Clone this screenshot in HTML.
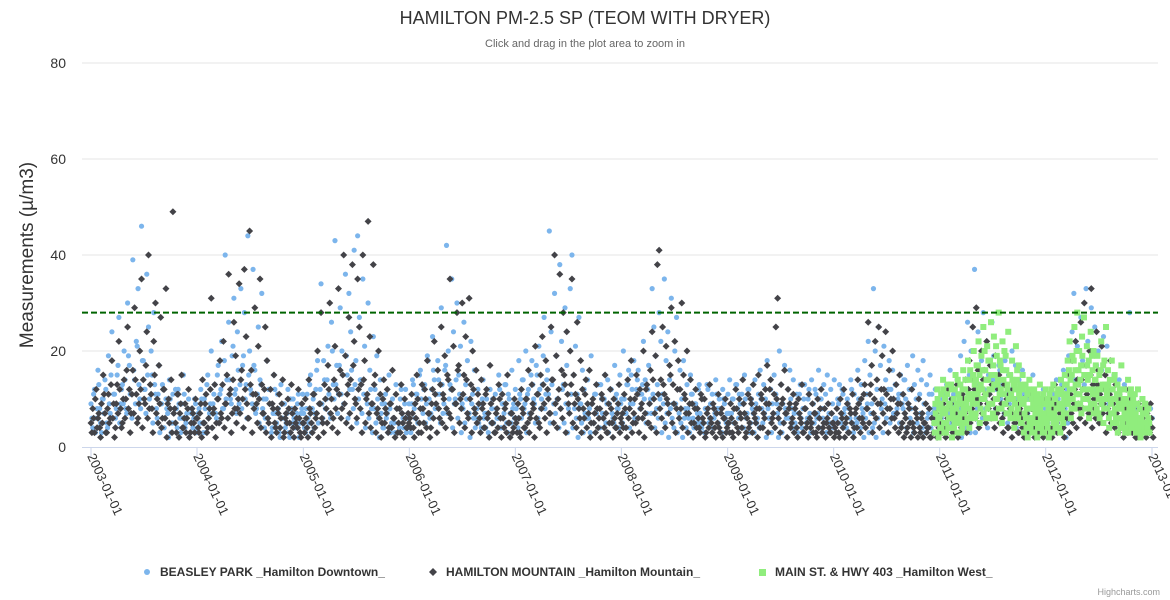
<!DOCTYPE html>
<html><head><meta charset="utf-8"><style>
body{margin:0;background:#fff;font-family:"Liberation Sans",sans-serif}
svg{display:block}
</style></head><body>
<svg id="chart" width="1170" height="600">
<rect x="0" y="0" width="1170" height="600" fill="#fff"/>
<text x="585" y="24" text-anchor="middle" font-size="18" fill="#333">HAMILTON PM-2.5 SP (TEOM WITH DRYER)</text>
<text x="585" y="47" text-anchor="middle" font-size="11" fill="#666">Click and drag in the plot area to zoom in</text>
<text transform="translate(33,255) rotate(-90)" text-anchor="middle" font-size="19" fill="#333">Measurements (µ/m3)</text>
<g id="grid"></g><g id="xaxis"></g><g id="plot"></g>
<g>
<g><circle cx="147" cy="572" r="3" fill="#7cb5ec"/><text x="160" y="576" font-size="12" font-weight="bold" fill="#333">BEASLEY PARK _Hamilton Downtown_</text></g>
<g><path d="M433 568 L437 572 L433 576 L429 572 Z" fill="#434348"/><text x="446" y="576" font-size="12" font-weight="bold" fill="#333">HAMILTON MOUNTAIN _Hamilton Mountain_</text></g>
<g><rect x="759" y="569" width="7" height="7" fill="#90ed7d"/><text x="775" y="576" font-size="12" font-weight="bold" fill="#333">MAIN ST. &amp; HWY 403 _Hamilton West_</text></g>
</g>
<text x="1160" y="595" text-anchor="end" font-size="9" fill="#999">Highcharts.com</text>
</svg>
<script>
const yTicks=[0,20,40,60,80];
const xTickLabels=["2003-01-01","2004-01-01","2005-01-01","2006-01-01","2007-01-01","2008-01-01","2009-01-01","2010-01-01","2011-01-01","2012-01-01","2013-01-01"];
const thresholdValue=28;
const mainStart="2003-01-01", mainStepDays=6;
const midStart="2003-01-04";
const greenStart="2010-12-14", greenStepDays=3.3;
const mountainValues=[5,8,3,12,6,4,9,15,7,3,11,6,18,9,4,13,22,8,5,14,10,25,12,7,16,29,11,6,20,35,14,9,24,40,13,8,22,30,10,17,27,6,12,33,9,5,14,49,8,3,11,7,15,4,9,6,12,3,8,5,10,
6,3,9,14,5,11,4,8,31,7,13,5,10,18,6,22,9,15,36,12,7,26,19,8,34,14,10,37,23,6,45,16,11,29,9,21,35,13,7,25,18,5,12,9,15,4,8,11,6,14,3,7,10,5,13,4,8,6,12,3,9,
5,10,4,14,7,3,11,6,20,9,28,5,13,8,17,30,10,6,21,12,33,16,8,40,19,11,27,14,38,22,9,35,25,13,40,18,10,47,23,9,38,15,7,20,11,5,14,8,12,4,9,16,6,11,3,8,13,5,10,4,7,
6,11,4,9,15,3,8,13,5,10,18,7,4,12,22,9,16,6,25,11,19,8,14,35,12,21,9,28,17,10,30,15,23,7,31,13,20,8,16,11,6,14,9,4,12,7,17,5,10,3,8,13,6,11,4,9,15,5,7,3,10,
5,9,3,12,7,4,10,16,6,13,8,21,11,5,15,23,9,18,12,7,25,14,40,19,10,36,16,28,13,24,9,20,35,15,11,26,8,18,12,6,14,9,16,5,10,7,13,4,8,11,6,15,3,9,12,5,10,4,7,13,6,
7,11,4,14,8,18,5,10,15,6,12,9,20,7,13,5,16,24,10,19,38,41,14,25,11,21,9,17,29,13,22,8,18,12,30,15,10,20,7,14,9,5,12,8,4,11,6,10,3,8,13,5,9,4,7,11,3,8,6,10,4,
5,9,3,8,12,4,10,6,14,7,3,11,5,9,13,6,8,15,4,10,7,12,17,9,14,6,11,25,31,8,13,10,16,7,12,9,5,11,8,4,10,6,13,3,8,5,11,4,9,7,3,10,6,12,4,8,5,9,3,7,5,
4,8,3,10,6,12,5,9,3,7,11,4,8,14,6,10,5,13,8,26,11,17,7,22,14,25,9,19,12,24,8,16,10,20,6,13,9,15,4,11,7,3,9,5,12,4,8,6,10,3,7,5,9,4,8,2,6,5,7,3,6,
5,9,4,8,12,6,10,4,7,13,5,9,11,6,14,8,18,10,25,12,29,16,9,20,14,11,22,8,17,13,10,19,7,15,11,6,13,9,4,11,7,12,5,9,3,8,6,10,4,7,11,5,8,3,9,6,4,7,5,10,4,
6,10,4,8,13,5,9,7,12,4,10,15,6,11,18,9,22,14,8,26,12,30,17,10,20,33,13,8,24,16,11,21,9,15,12,7,18,10,5,13,8,11,4,9,6,12,3,8,10,5,7,2,9,4,6,8,3,7,5,9,4];
const mountainValuesMid=[3,6,10,4,7,2,5,11,3,8,5,13,6,2,9,7,12,4,10,6,16,8,3,11,7,14,5,9,12,4,10,17,6,8,11,3,15,7,5,9,4,12,6,2,10,8,3,7,5,11,2,9,4,6,3,8,2,5,7,3,6,
4,7,2,5,9,3,6,12,4,8,2,10,5,7,13,4,9,6,11,3,14,8,5,10,7,16,4,12,9,6,13,3,8,11,5,10,4,7,12,3,6,9,2,8,5,3,7,4,9,2,6,5,8,3,7,2,5,4,6,2,5,
3,6,2,8,5,11,4,7,2,9,6,3,10,5,12,7,4,14,8,3,11,6,15,9,5,13,7,4,17,10,6,12,8,3,14,5,11,7,4,9,13,3,8,6,2,10,5,7,3,9,4,6,2,8,5,3,7,2,6,4,5,
4,7,2,6,10,5,3,8,12,4,7,2,9,6,11,3,8,13,5,10,4,15,7,6,12,3,9,16,5,8,11,4,14,6,10,3,12,7,5,9,3,8,4,11,6,2,9,5,3,7,4,10,2,6,8,3,5,2,7,4,6,
3,6,2,8,4,10,5,3,7,9,2,6,11,4,8,13,6,3,10,7,14,5,9,4,12,8,6,15,3,11,7,13,5,9,4,10,6,3,8,11,4,7,2,9,5,3,8,6,2,10,4,7,3,5,8,2,6,4,9,3,5,
4,8,2,6,10,3,7,5,11,3,8,6,2,12,5,9,4,14,7,3,11,8,6,13,4,10,7,15,5,9,3,12,6,8,4,11,7,3,9,5,2,8,4,6,3,10,5,2,7,4,6,3,8,2,5,4,7,2,6,3,5,
3,6,2,5,8,3,7,4,9,2,6,4,10,3,7,5,2,8,11,4,6,9,3,12,5,7,4,10,6,3,9,5,7,2,8,4,6,3,9,2,7,5,3,8,4,2,6,5,3,7,2,4,8,3,5,2,6,4,3,5,2,
3,5,2,7,4,2,6,3,8,5,2,7,4,9,3,6,11,4,8,5,13,3,10,6,9,4,12,7,5,11,3,8,6,10,4,7,3,9,5,2,6,4,8,2,5,3,7,2,4,6,2,5,3,4,2,6,3,5,2,4,3,
3,7,2,6,4,9,3,5,8,2,6,4,10,7,3,12,5,8,14,6,10,4,12,7,16,5,9,11,6,13,4,8,12,5,9,3,7,10,4,8,2,6,5,9,3,7,4,2,6,5,3,8,4,2,6,3,5,7,2,4,3,
4,7,2,5,9,3,6,4,8,2,6,11,3,7,5,12,4,9,6,14,8,5,11,7,15,4,10,6,13,5,9,7,12,3,8,11,5,9,4,7,3,10,6,2,8,5,4,7,3,6,2,5,8,3,6,4,2,5,3,6,2];
const beasleyValues=[9,4,12,6,16,8,3,10,14,5,19,7,24,11,6,15,27,9,13,20,8,30,17,11,39,14,22,33,10,46,18,12,36,25,8,15,28,11,6,17,9,13,4,10,7,14,3,11,5,8,12,6,9,15,4,7,10,3,8,6,9,
4,8,12,5,10,3,15,7,20,9,13,6,17,11,22,8,40,14,26,10,19,31,12,24,9,33,17,28,13,44,20,11,37,16,8,25,14,32,10,6,18,12,9,4,15,7,11,3,13,6,9,5,12,2,8,10,4,7,11,5,8,
7,3,11,5,15,8,4,12,18,9,34,6,14,10,21,7,26,13,43,17,11,29,20,9,36,15,32,24,12,41,18,44,27,14,35,21,10,30,16,8,23,12,19,6,14,9,4,11,7,15,3,10,5,13,8,4,12,6,9,3,7,
4,9,13,6,11,3,16,8,12,5,19,10,7,23,14,9,18,11,29,7,16,42,20,13,35,24,10,30,15,21,9,26,13,18,7,22,11,16,6,12,9,4,14,7,10,3,12,8,5,11,6,15,4,9,7,13,3,10,5,8,6,
8,4,11,6,14,9,3,12,7,18,10,5,15,21,8,13,27,11,16,45,24,14,32,19,10,38,22,13,29,17,8,33,40,15,21,11,27,9,16,12,6,14,8,19,5,11,7,13,4,10,6,15,9,3,12,7,5,10,8,4,9,
5,10,7,13,4,15,9,6,12,16,8,11,22,14,7,17,10,33,25,19,13,28,22,11,35,18,24,14,31,9,20,27,12,16,10,18,8,13,6,15,11,4,9,7,13,5,10,3,8,12,6,9,4,7,11,5,8,3,10,6,7,
7,3,10,5,13,8,11,4,9,15,6,12,3,10,7,14,5,11,16,8,13,10,18,6,12,9,15,11,7,20,13,9,17,6,12,16,8,14,5,11,7,13,4,10,8,6,12,3,9,5,11,7,4,10,6,8,3,9,5,7,4,
6,3,9,5,12,7,4,10,8,14,5,11,6,16,9,13,7,18,11,22,15,9,33,20,12,25,17,10,21,14,8,18,12,16,7,13,10,5,11,8,14,4,9,6,12,3,8,5,10,7,4,9,3,6,11,4,7,5,8,3,5,
6,10,4,13,8,16,5,11,9,14,7,19,12,22,9,26,15,20,11,37,17,24,13,18,28,10,21,15,12,26,19,8,14,17,10,13,7,11,5,9,12,6,10,4,8,13,5,9,7,3,10,6,8,4,11,5,9,3,7,6,8,
5,9,3,11,7,14,10,6,13,16,8,12,19,10,24,32,14,21,11,27,18,13,33,22,15,29,12,25,17,20,10,16,23,13,21,9,18,12,15,8,11,14,6,10,13,5,9,28,7,11,4,8,12,6,10,4,9,7,5,8,6];
const beasleyValuesMid=[6,11,3,8,13,5,10,7,12,4,9,15,6,11,8,17,5,12,9,14,7,19,11,6,16,9,21,13,8,18,12,7,15,10,20,5,13,8,11,3,9,12,6,8,2,10,5,7,12,4,9,3,6,11,5,8,2,7,4,10,3,
7,5,10,3,8,13,6,9,4,11,7,15,5,12,8,18,10,6,14,9,21,11,7,16,13,8,19,10,6,15,12,9,17,7,11,5,13,8,4,10,6,9,3,7,12,5,8,2,6,9,4,7,3,10,5,6,
5,9,2,7,11,4,8,6,13,3,10,7,16,5,12,9,18,8,14,11,6,20,10,13,7,17,11,15,9,19,6,12,16,8,13,5,10,14,7,11,4,9,6,12,3,8,5,10,2,7,4,9,6,3,8,5,
6,3,8,5,10,7,4,12,6,9,3,14,8,11,5,15,10,7,13,9,18,6,12,16,8,11,14,5,13,9,17,7,10,12,4,9,14,6,11,3,8,5,10,7,2,9,6,4,8,5,3,10,6,4,7,2,
5,10,3,8,6,12,4,9,13,5,11,7,16,9,12,6,18,10,14,8,20,11,7,15,13,9,17,6,12,10,19,8,14,11,5,13,9,7,10,4,8,12,5,9,3,7,11,4,8,6,2,9,5,3,7,6,
6,3,9,5,11,8,4,13,7,10,5,14,9,12,6,17,11,8,15,10,20,7,13,16,9,12,18,6,14,11,8,13,10,5,12,9,7,11,4,8,6,10,3,9,5,7,2,8,6,4,9,3,7,5,2,6,
4,8,3,11,6,9,5,12,7,4,10,8,13,5,9,11,6,14,8,10,7,12,9,5,11,14,7,10,8,13,6,9,11,4,10,7,12,5,8,3,9,6,4,10,5,7,2,8,6,3,7,4,9,2,5,3,
5,8,2,6,10,4,7,9,3,11,6,8,13,5,10,7,14,9,12,6,16,10,8,13,11,15,7,12,9,14,6,10,13,5,11,8,4,9,6,12,3,7,5,10,4,8,2,6,9,3,7,4,5,2,6,
4,8,3,9,6,12,5,10,7,13,8,11,15,9,14,10,17,12,8,19,13,10,16,11,14,18,9,13,7,15,11,8,12,6,10,9,5,8,11,4,7,10,3,9,6,5,8,2,7,4,9,5,3,6,
7,3,8,5,10,6,12,8,4,11,9,14,7,12,10,16,13,9,18,11,15,8,20,12,17,10,14,9,16,11,13,7,12,10,15,6,11,9,5,8,12,4,10,7,6,9,3,8,5,11,4,7,6,2,5];
const mainStValues=[5,9,3,12,6,8,4,11,7,14,5,10,3,8,13,6,9,4,12,7,
10,5,15,8,3,11,6,13,9,4,16,7,12,5,10,18,8,14,6,11,
9,20,13,7,17,11,22,15,8,19,12,25,10,16,6,21,14,9,18,26,
12,7,23,15,10,19,13,28,11,17,8,22,14,20,9,16,12,24,7,15,
11,18,6,13,9,21,14,8,17,10,12,5,15,9,7,13,4,11,8,14,
6,10,3,9,12,5,8,11,4,7,13,6,10,3,9,5,12,7,4,8,
11,6,9,3,13,7,10,5,8,12,4,9,14,6,11,7,15,9,13,18,
10,22,14,8,19,12,25,16,11,28,13,20,9,17,23,12,27,15,10,21,
14,18,8,24,12,16,20,9,14,11,19,7,15,12,22,10,17,8,13,25,
11,16,6,14,9,18,12,7,15,10,5,13,8,11,4,17,9,6,12,3,
10,7,14,5,9,12,6,8,4,11,7,3,9,5,8,2,6,10,4,7,
9,3,8,6,5];
const mainStValuesMid=[3,7,5,10,2,6,9,4,8,12,3,7,5,11,4,9,6,13,2,8,
4,12,6,9,14,5,10,7,3,12,8,5,14,9,6,11,4,16,7,10,
15,11,6,14,9,17,12,5,13,10,16,7,20,11,14,8,18,12,6,15,
9,17,13,6,21,10,14,8,18,12,5,16,11,9,19,7,13,10,15,6,
8,14,10,4,12,7,16,6,11,13,5,9,12,3,10,6,8,2,12,5,
4,8,6,11,3,7,10,2,9,5,8,4,7,11,3,6,9,5,10,2,
7,3,12,6,5,10,4,8,11,6,9,3,12,8,5,10,13,7,11,9,
16,12,6,15,10,18,8,13,20,9,16,11,14,7,19,10,15,8,12,17,
10,6,15,9,19,11,7,14,17,8,12,10,6,16,9,13,5,18,10,12,
8,13,4,10,7,12,5,14,8,6,11,3,9,12,6,8,5,10,7,4,
6,9,3,8,11,4,7,10,5,9,3,6,12,4,8,6,3,7,5,9,
5,7,4,8,3];

const NS="http://www.w3.org/2000/svg";
const X0=Date.parse("2003-01-01"), X1=Date.parse("2013-01-01");
const px0=91, px1=1152, plotL=82, plotR=1158, py0=447, py80=63;
const xScale=t=>px0+(t-X0)/(X1-X0)*(px1-px0);
const yScale=v=>py0-(v/80)*(py0-py80);
const DAY=86400000;
function mk(tag,attrs,parent){const e=document.createElementNS(NS,tag);for(const k in attrs)e.setAttribute(k,attrs[k]);parent.appendChild(e);return e;}
const grid=document.getElementById('grid'), xa=document.getElementById('xaxis'), plot=document.getElementById('plot');
yTicks.forEach(v=>{
  const y=yScale(v);
  if(v>0){const l=mk('line',{x1:plotL,x2:plotR,y1:y,y2:y,stroke:'#e6e6e6'},grid);
  
  }
  const t=mk('text',{x:66,y:y+5,'text-anchor':'end','font-size':14,fill:'#333'},grid);
  t.textContent=v;
  
  
});
const ax=mk('line',{x1:plotL,x2:plotR,y1:py0+0.5,y2:py0+0.5,stroke:'#ccd6eb'},xa);


xTickLabels.forEach(s=>{
  const x=xScale(Date.parse(s));
  const tk=mk('line',{x1:x,x2:x,y1:py0,y2:py0+10,stroke:'#ccd6eb'},xa);
  
  
  const t=mk('text',{x:0,y:0,'font-size':13,fill:'#333',transform:`translate(${x-4},${py0+9}) rotate(65)`},xa);
  t.textContent=s;
  
  
});
function drawSeries(vals,start,step,shape,color,name){
  const t0=Date.parse(start);
  const g=mk('g',{},plot);
  
  
  vals.forEach((v,i)=>{
    const x=xScale(t0+i*step*DAY), y=yScale(v);
    let e;
    if(shape==='circle') e=mk('circle',{cx:x,cy:y,r:2.6,fill:color},g);
    else if(shape==='diamond') e=mk('path',{d:`M${x} ${y-3.5}L${x+3.5} ${y}L${x} ${y+3.5}L${x-3.5} ${y}Z`,fill:color},g);
    else e=mk('rect',{x:x-3,y:y-3,width:6,height:6,fill:color},g);
    
    
  });
}
drawSeries(beasleyValues,mainStart,mainStepDays,'circle','#7cb5ec','beasley');
drawSeries(beasleyValuesMid,midStart,mainStepDays,'circle','#7cb5ec','beasley');
drawSeries(mountainValues,mainStart,mainStepDays,'diamond','#434348','mountain');
drawSeries(mountainValuesMid,midStart,mainStepDays,'diamond','#434348','mountain');
drawSeries(mainStValues,greenStart,greenStepDays,'square','#90ed7d','main-st');
drawSeries(mainStValuesMid,"2010-12-15",greenStepDays,'square','#90ed7d','main-st');
const th=mk('line',{x1:plotL,x2:plotR,y1:yScale(thresholdValue),y2:yScale(thresholdValue),stroke:'#006400','stroke-width':2,'stroke-dasharray':'6,3'},plot);


</script>
</body></html>
